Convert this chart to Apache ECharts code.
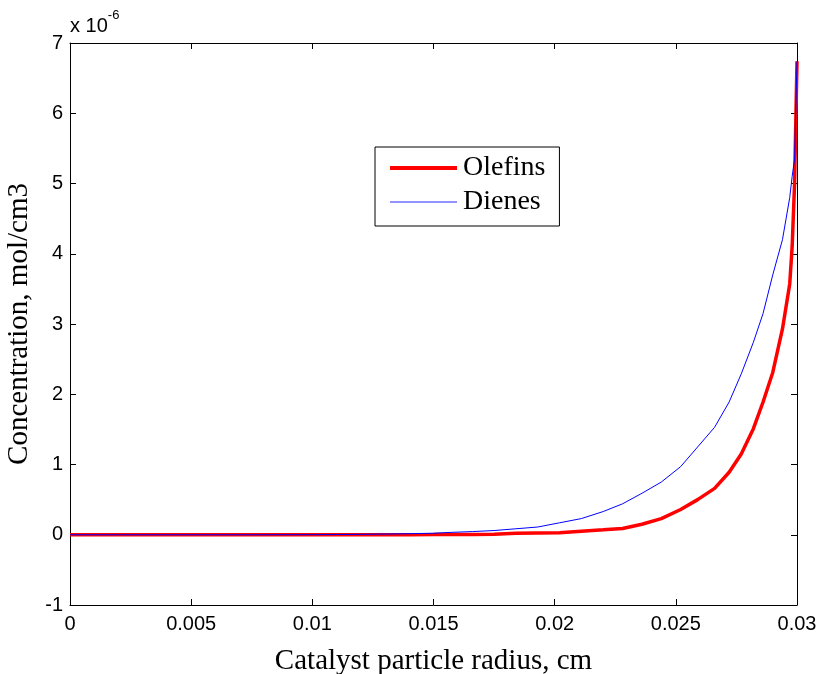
<!DOCTYPE html>
<html>
<head>
<meta charset="utf-8">
<script src="https://cdn.jsdelivr.net/npm/echarts@6/dist/echarts.min.js"></script>
<style>
  html, body { margin: 0; padding: 0; background: #fff; }
  #chart { width: 828px; height: 674px; }
</style>
</head>
<body>
<div id="chart"></div>
<script>
// radius mesh (cm) and concentrations (x 1e-6 mol/cm3)
const radius = [0, 0.002, 0.004, 0.006, 0.008, 0.010, 0.011, 0.012, 0.013, 0.014,
  0.015, 0.0158, 0.0166, 0.0175, 0.0184, 0.0193, 0.0202, 0.0211, 0.0220, 0.0228,
  0.0236, 0.0244, 0.0252, 0.0259, 0.0266, 0.0272, 0.0277, 0.0282, 0.0286, 0.0290,
  0.0294, 0.0297, 0.0298, 0.0299, 0.0300];
const olefins = [0, 0, 0, 0, 0, 0, 0, 0, 0, 0,
  0.002, 0.004, 0.005, 0.008, 0.02, 0.025, 0.03, 0.05, 0.07, 0.09,
  0.15, 0.23, 0.36, 0.50, 0.66, 0.89, 1.15, 1.51, 1.89, 2.31,
  2.93, 3.57, 4.1, 5.0, 6.74];
const dienes = [0, 0, 0, 0, 0, 0.001, 0.003, 0.006, 0.01, 0.015,
  0.022, 0.035, 0.045, 0.06, 0.085, 0.11, 0.17, 0.23, 0.33, 0.44,
  0.59, 0.75, 0.97, 1.25, 1.53, 1.89, 2.29, 2.74, 3.15, 3.7,
  4.2, 4.8, 5.1, 5.35, 6.74];

const pairs = ys => radius.map((r, i) => [r, ys[i]]);

const chart = echarts.init(document.getElementById('chart'));
const tickStyle = { show: true, inside: true, length: 6, lineStyle: { color: '#000' } };
const lineStyle = { show: true, onZero: false, lineStyle: { color: '#000', width: 1 } };
const nameFont = { fontFamily: 'Liberation Serif', fontSize: 29, color: '#000' };
const tickFont = { fontFamily: 'Liberation Sans', fontSize: 20, color: '#000' };

chart.setOption({
  animation: false,
  grid: { left: 70, top: 43, right: 31, bottom: 69, outerBoundsMode: 'none', containLabel: false },
  xAxis: [{
    type: 'value', min: 0, max: 0.03, interval: 0.005,
    name: 'Catalyst particle radius, cm', nameLocation: 'middle', nameGap: 42,
    nameTextStyle: nameFont,
    axisLine: lineStyle, axisTick: tickStyle, splitLine: { show: false },
    axisLabel: Object.assign({ margin: 9, formatter: v => String(+v.toFixed(3)) }, tickFont)
  }, {
    type: 'value', min: 0, max: 0.03, interval: 0.005, position: 'top',
    axisLine: lineStyle, axisTick: tickStyle, axisLabel: { show: false }, splitLine: { show: false }
  }],
  yAxis: [{
    type: 'value', min: -1, max: 7, interval: 1,
    name: 'Concentration, mol/cm3', nameLocation: 'middle', nameGap: 31, nameRotate: 90,
    nameTextStyle: nameFont,
    axisLine: lineStyle, axisTick: tickStyle, splitLine: { show: false },
    axisLabel: Object.assign({ margin: 7 }, tickFont)
  }, {
    type: 'value', min: -1, max: 7, interval: 1, position: 'right',
    axisLine: lineStyle, axisTick: tickStyle, axisLabel: { show: false }, splitLine: { show: false }
  }],
  legend: {
    left: 375, top: 147, orient: 'vertical', itemGap: 6,
    padding: [7, 14, 10, 13], itemWidth: 67, itemHeight: 14,
    borderColor: '#000', borderWidth: 1, backgroundColor: '#fff',
    itemStyle: { color: 'transparent', borderWidth: 0 },
    textStyle: { fontFamily: 'Liberation Serif', fontSize: 28, color: '#000', padding: [0, 0, 0, 1] },
    data: [
      { name: 'Olefins', lineStyle: { color: '#ff0000', width: 4 } },
      { name: 'Dienes', lineStyle: { color: '#6f6fff', width: 1.5 } }
    ]
  },
  graphic: [{
    type: 'text', left: 70, top: 9,
    style: {
      text: '{a|x 10}{b|-6}',
      rich: {
        a: { fontFamily: 'Liberation Sans', fontSize: 20, fill: '#000', padding: [7, 0, 0, 0] },
        b: { fontFamily: 'Liberation Sans', fontSize: 13, fill: '#000', verticalAlign: 'top' }
      }
    }
  }],
  series: [{
    name: 'Olefins', type: 'line', data: pairs(olefins), symbol: 'none',
    lineStyle: { color: '#ff0000', width: 3.5 }, itemStyle: { color: '#ff0000' }
  }, {
    name: 'Dienes', type: 'line', data: pairs(dienes), symbol: 'none',
    lineStyle: { color: '#0000ff', width: 1 }, itemStyle: { color: '#0000ff' }
  }]
});
</script>
</body>
</html>
